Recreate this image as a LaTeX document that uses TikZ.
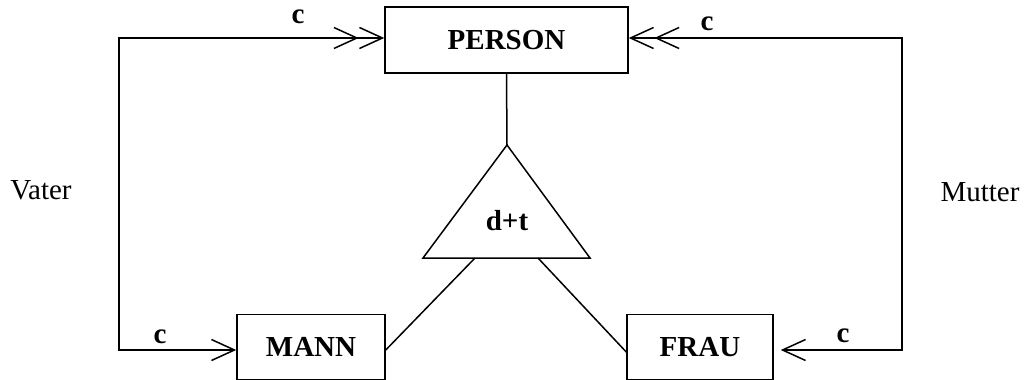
\documentclass[tikz,border=0pt]{standalone}
\usepackage{fontspec}
\setmainfont{Liberation Serif}
\usetikzlibrary{arrows.meta}
\tikzset{barb/.tip={Straight Barb[length=23pt,width=21pt,sep=0pt]}}
\begin{document}
\begin{tikzpicture}[x=1pt,y=-1pt,
  line width=1.5pt,
  entity/.style={draw,rectangle,inner sep=0pt,font=\fontsize{29}{34}\selectfont\bfseries},
  card/.style={inner sep=0pt,font=\fontsize{29}{34}\selectfont\bfseries},
  role/.style={inner sep=0pt,font=\fontsize{29}{34}\selectfont},
  link/.style={line join=miter}]
  \useasboundingbox (0,0) rectangle (1026,380);

  % entity boxes
  \node[entity,minimum width=243pt,minimum height=66pt] (PERSON) at (506.5,40) {PERSON};
  \node[entity,minimum width=148pt,minimum height=65pt] (MANN) at (311,347) {MANN};
  \node[entity,minimum width=146pt,minimum height=65pt] (FRAU) at (700,347) {FRAU};

  % specialisation triangle
  \coordinate (tA) at (507,145);
  \coordinate (tL) at (423,258);
  \coordinate (tR) at (590,258);
  \coordinate (bL) at (475,258);
  \coordinate (bR) at (538,258);
  \draw[line join=miter] (tA) -- (tL) -- (tR) -- cycle;
  \node[card] (dt) at (507,221) {d+t};

  \draw (PERSON.south) -- (tA);
  \draw (bL) -- ([yshift=-3pt]MANN.east);
  \draw (bR) -- ([yshift=-5pt]FRAU.west);

  % role connectors
  \coordinate (vl) at (119,200);
  \coordinate (vr) at (902,200);
  \draw[link,{barb[]barb}-barb] ([yshift=2pt]PERSON.west) -| (vl) |- ([yshift=-3pt]MANN.west);
  \draw[link,{barb[]barb}-barb,shorten >=7pt] ([yshift=2pt]PERSON.east) -| (vr) |- ([yshift=-3pt]FRAU.east);

  % cardinalities and role names
  \node[card] (c1) at (298,16.5) {c};
  \node[card] (c2) at (707,23.5) {c};
  \node[card] (c3) at (160,336.5) {c};
  \node[card] (c4) at (843,335.5) {c};
  \node[role] (vater) at (41,190) {Vater};
  \node[role] (mutter) at (980,192) {Mutter};
\end{tikzpicture}
\end{document}
